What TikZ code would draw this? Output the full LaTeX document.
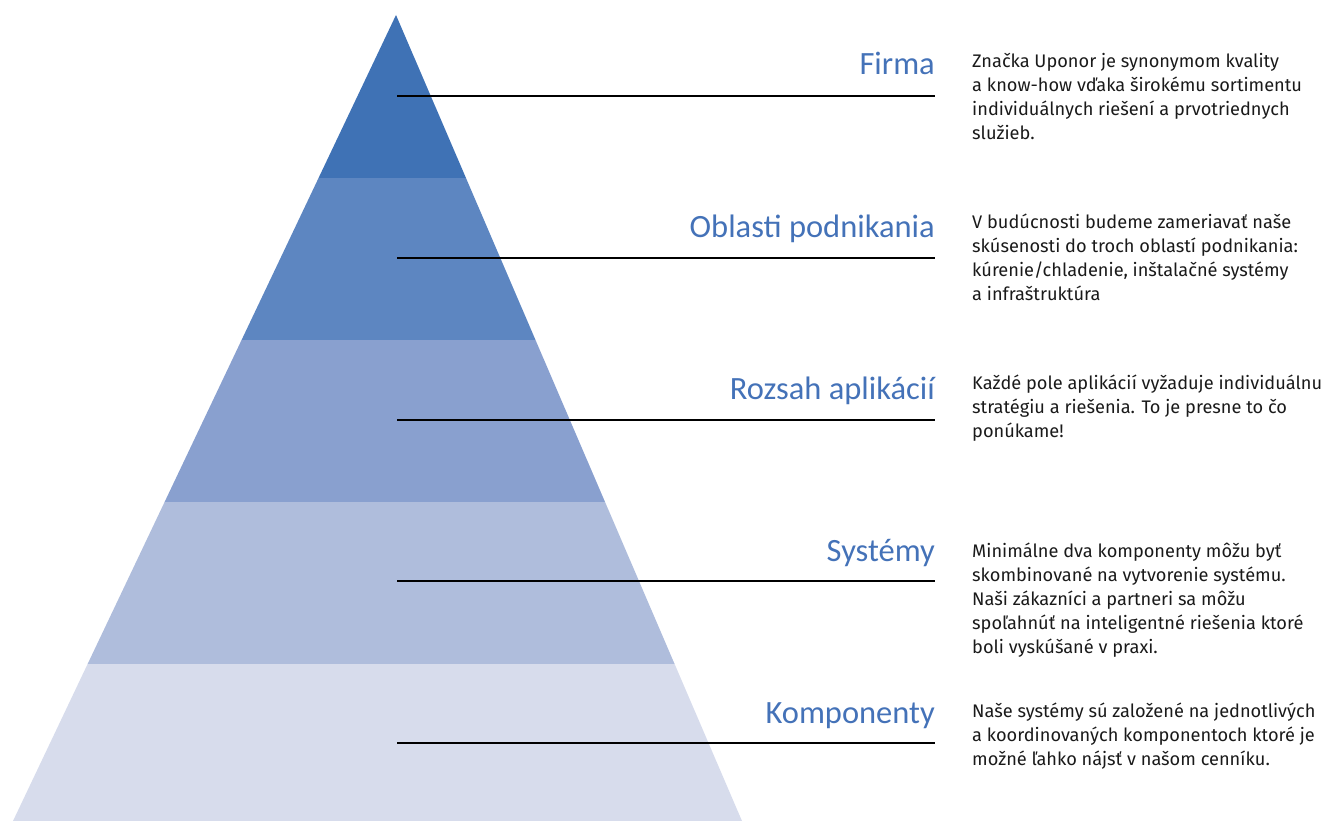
\documentclass[tikz,border=0pt]{standalone}
\usepackage{fontspec}
\setmainfont{Fira Sans}
\newfontfamily\labelfont{Carlito}
\usetikzlibrary{positioning}

\definecolor{bandA}{RGB}{63,114,181}
\definecolor{bandB}{RGB}{93,134,193}
\definecolor{bandC}{RGB}{137,160,207}
\definecolor{bandD}{RGB}{175,189,220}
\definecolor{bandE}{RGB}{215,220,236}
\definecolor{labelblue}{RGB}{68,114,184}
\definecolor{desctext}{RGB}{26,26,26}

\tikzset{
  levellabel/.style={anchor=base east,inner sep=0pt,text=labelblue,font=\labelfont\fontsize{32.5}{38}\selectfont},
  leveldesc/.style={anchor=base west,inner sep=0pt,align=left,text=desctext,font=\fontsize{18.2}{24}\selectfont},
  levelline/.style={line width=2pt,black}
}

\begin{document}
\begin{tikzpicture}[x=1pt,y=-1pt]
  \useasboundingbox (0,0) rectangle (1325,821);

  % pyramid
  \coordinate (apex) at (396,15);
  \coordinate (baseL) at (13,821);
  \coordinate (baseR) at (742,821);
  \begin{scope}
    \clip (apex) -- (baseR) -- (baseL) -- cycle;
    \fill[bandA] (0,0) rectangle (1325,178);
    \fill[bandB] (0,178) rectangle (1325,340);
    \fill[bandC] (0,340) rectangle (1325,502);
    \fill[bandD] (0,502) rectangle (1325,664);
    \fill[bandE] (0,664) rectangle (1325,822);
  \end{scope}

  % levels
  \coordinate (l1) at (397,96);
  \coordinate (l2) at (397,258);
  \coordinate (l3) at (397,420);
  \coordinate (l4) at (397,581);
  \coordinate (l5) at (397,743);

  \node[levellabel] (firma) at (935,75) {Firma};
  \node[levellabel] (oblasti) at (935,237) {Oblasti podnikania};
  \node[levellabel] (rozsah) at (935,399) {Rozsah aplikácií};
  \node[levellabel] (systemy) at (935,561) {Systémy};
  \node[levellabel] (komponenty) at (935,723) {Komponenty};

  \coordinate (r1) at (935,96);
  \coordinate (r2) at (935,258);
  \coordinate (r3) at (935,420);
  \coordinate (r4) at (935,581);
  \coordinate (r5) at (935,743);

  \foreach \i in {1,...,5}
    \draw[levelline] (l\i) -- (r\i);

  % descriptions (base = last line)
  \node[leveldesc] (firmadesc) at (972,140) {Značka Uponor je synonymom kvality\\a know-how vďaka širokému sortimentu\\individuálnych riešení a prvotriednych\\služieb.};
  \node[leveldesc] (oblastidesc) at (972,300) {V budúcnosti budeme zameriavať naše\\skúsenosti do troch oblastí podnikania:\\kúrenie/chladenie, inštalačné systémy\\a infraštruktúra};
  \node[leveldesc] (rozsahdesc) at (972,437) {Každé pole aplikácií vyžaduje individuálnu\\stratégiu a riešenia. To je presne to čo\\ponúkame!};
  \node[leveldesc] (systemydesc) at (972,653) {Minimálne dva komponenty môžu byť\\skombinované na vytvorenie systému.\\Naši zákazníci a partneri sa môžu\\spoľahnúť na inteligentné riešenia ktoré\\boli vyskúšané v praxi.};
  \node[leveldesc] (komponentydesc) at (972,765) {Naše systémy sú založené na jednotlivých\\a koordinovaných komponentoch ktoré je\\možné ľahko nájsť v našom cenníku.};
\end{tikzpicture}
\end{document}
